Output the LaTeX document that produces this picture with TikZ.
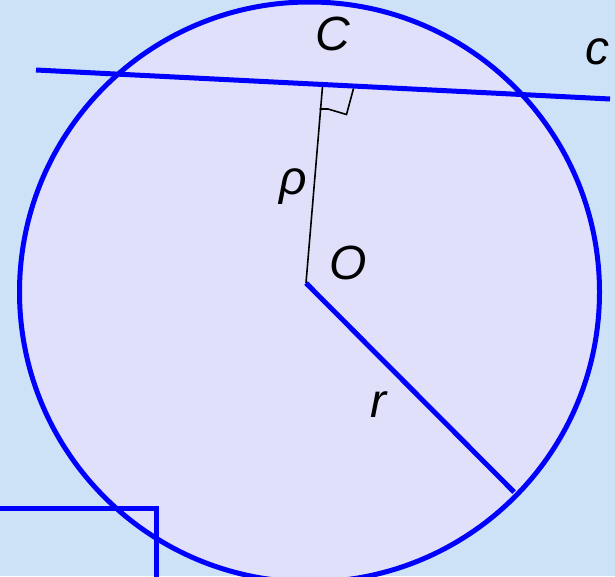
\documentclass[tikz,border=0pt]{standalone}
\usepackage{fontspec}
\setmainfont{Liberation Sans}
\definecolor{bgblue}{RGB}{205,226,246}
\definecolor{fillcirc}{RGB}{224,224,250}
\definecolor{lineblue}{RGB}{0,0,255}
\tikzset{
  blueline/.style={draw=lineblue, line width=5pt},
  thinline/.style={draw=black, line width=1.6pt},
  lbl/.style={font=\fontsize{48}{48}\selectfont\itshape, inner sep=0pt}
}
\begin{document}
\begin{tikzpicture}[x=1pt,y=-1pt]
\fill[bgblue] (0,0) rectangle (615,576);
\useasboundingbox (0,0) rectangle (615,576);
\coordinate (M) at (309.5,292);
\fill[fillcirc] (M) circle[radius=290];
\coordinate (cL) at (36,70);
\coordinate (cR) at (610,99);
\coordinate (O) at (306,283);
\coordinate (F) at (322.5,86.5);
\coordinate (R) at (514,492);
\coordinate (q1) at (319.5,109);
\coordinate (q2) at (328,109);
\coordinate (q3) at (346.5,114.5);
\coordinate (q4) at (353.5,88.5);
\draw[thinline] (O) -- (F);
\draw[thinline, line join=miter] (q1) -- (q2) -- (q3) -- (q4);
\draw[blueline] (cL) -- (cR);
\draw[blueline, line cap=butt] (O) -- (R);
\draw[blueline] (M) circle[radius=290];
\draw[blueline] (-5,508) -- (156,508) -- (156,580);
\node[lbl] (lC) at (332.5,34) {C};
\node[lbl] (lc) at (597,52) {c};
\node[lbl, anchor=base] (lrho) at (293,194) {ρ};
\node[lbl] (lO) at (348.5,263) {O};
\node[lbl] (lr) at (378,405) {r};
\end{tikzpicture}
\end{document}
